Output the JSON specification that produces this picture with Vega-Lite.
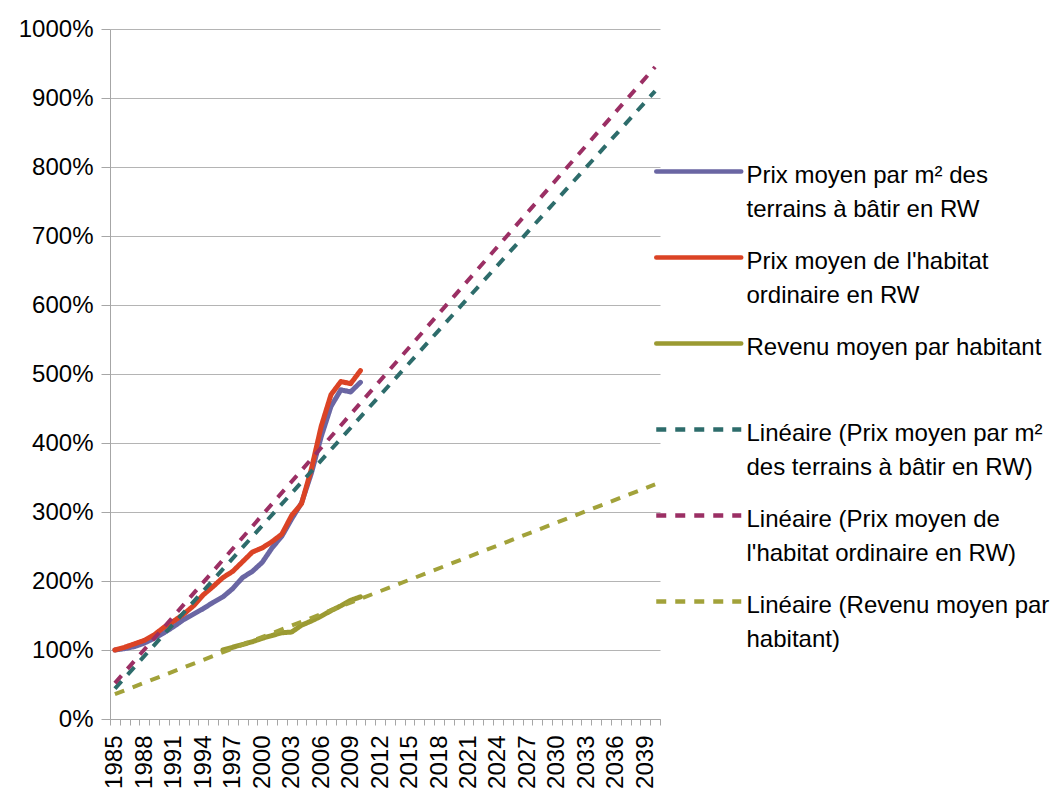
{
  "$schema": "https://vega.github.io/schema/vega-lite/v6.json",
  "width": 550,
  "height": 690,
  "autosize": {"type": "none"},
  "padding": {"left": 110, "top": 29, "right": 392, "bottom": 77},
  "background": "white",
  "config": {
    "view": {"stroke": null},
    "font": "Liberation Sans",
    "style": {"guide-label": {"lineHeight": 34}}
  },
  "data": {
    "values": [
      {"year": 1985, "value": 100, "series": "Prix moyen par m² des|terrains à bâtir en RW", "kind": "actual"},
      {"year": 1986, "value": 102, "series": "Prix moyen par m² des|terrains à bâtir en RW", "kind": "actual"},
      {"year": 1987, "value": 105, "series": "Prix moyen par m² des|terrains à bâtir en RW", "kind": "actual"},
      {"year": 1988, "value": 110, "series": "Prix moyen par m² des|terrains à bâtir en RW", "kind": "actual"},
      {"year": 1989, "value": 117, "series": "Prix moyen par m² des|terrains à bâtir en RW", "kind": "actual"},
      {"year": 1990, "value": 125, "series": "Prix moyen par m² des|terrains à bâtir en RW", "kind": "actual"},
      {"year": 1991, "value": 134, "series": "Prix moyen par m² des|terrains à bâtir en RW", "kind": "actual"},
      {"year": 1992, "value": 144, "series": "Prix moyen par m² des|terrains à bâtir en RW", "kind": "actual"},
      {"year": 1993, "value": 152, "series": "Prix moyen par m² des|terrains à bâtir en RW", "kind": "actual"},
      {"year": 1994, "value": 160, "series": "Prix moyen par m² des|terrains à bâtir en RW", "kind": "actual"},
      {"year": 1995, "value": 169, "series": "Prix moyen par m² des|terrains à bâtir en RW", "kind": "actual"},
      {"year": 1996, "value": 177, "series": "Prix moyen par m² des|terrains à bâtir en RW", "kind": "actual"},
      {"year": 1997, "value": 189, "series": "Prix moyen par m² des|terrains à bâtir en RW", "kind": "actual"},
      {"year": 1998, "value": 205, "series": "Prix moyen par m² des|terrains à bâtir en RW", "kind": "actual"},
      {"year": 1999, "value": 214, "series": "Prix moyen par m² des|terrains à bâtir en RW", "kind": "actual"},
      {"year": 2000, "value": 227, "series": "Prix moyen par m² des|terrains à bâtir en RW", "kind": "actual"},
      {"year": 2001, "value": 248, "series": "Prix moyen par m² des|terrains à bâtir en RW", "kind": "actual"},
      {"year": 2002, "value": 265, "series": "Prix moyen par m² des|terrains à bâtir en RW", "kind": "actual"},
      {"year": 2003, "value": 290, "series": "Prix moyen par m² des|terrains à bâtir en RW", "kind": "actual"},
      {"year": 2004, "value": 313, "series": "Prix moyen par m² des|terrains à bâtir en RW", "kind": "actual"},
      {"year": 2005, "value": 356, "series": "Prix moyen par m² des|terrains à bâtir en RW", "kind": "actual"},
      {"year": 2006, "value": 409, "series": "Prix moyen par m² des|terrains à bâtir en RW", "kind": "actual"},
      {"year": 2007, "value": 453, "series": "Prix moyen par m² des|terrains à bâtir en RW", "kind": "actual"},
      {"year": 2008, "value": 477, "series": "Prix moyen par m² des|terrains à bâtir en RW", "kind": "actual"},
      {"year": 2009, "value": 474, "series": "Prix moyen par m² des|terrains à bâtir en RW", "kind": "actual"},
      {"year": 2010, "value": 488, "series": "Prix moyen par m² des|terrains à bâtir en RW", "kind": "actual"},

      {"year": 1985, "value": 100, "series": "Prix moyen de l'habitat|ordinaire en RW", "kind": "actual"},
      {"year": 1986, "value": 104, "series": "Prix moyen de l'habitat|ordinaire en RW", "kind": "actual"},
      {"year": 1987, "value": 109, "series": "Prix moyen de l'habitat|ordinaire en RW", "kind": "actual"},
      {"year": 1988, "value": 114, "series": "Prix moyen de l'habitat|ordinaire en RW", "kind": "actual"},
      {"year": 1989, "value": 122, "series": "Prix moyen de l'habitat|ordinaire en RW", "kind": "actual"},
      {"year": 1990, "value": 133, "series": "Prix moyen de l'habitat|ordinaire en RW", "kind": "actual"},
      {"year": 1991, "value": 142, "series": "Prix moyen de l'habitat|ordinaire en RW", "kind": "actual"},
      {"year": 1992, "value": 152, "series": "Prix moyen de l'habitat|ordinaire en RW", "kind": "actual"},
      {"year": 1993, "value": 164, "series": "Prix moyen de l'habitat|ordinaire en RW", "kind": "actual"},
      {"year": 1994, "value": 180, "series": "Prix moyen de l'habitat|ordinaire en RW", "kind": "actual"},
      {"year": 1995, "value": 192, "series": "Prix moyen de l'habitat|ordinaire en RW", "kind": "actual"},
      {"year": 1996, "value": 205, "series": "Prix moyen de l'habitat|ordinaire en RW", "kind": "actual"},
      {"year": 1997, "value": 214, "series": "Prix moyen de l'habitat|ordinaire en RW", "kind": "actual"},
      {"year": 1998, "value": 228, "series": "Prix moyen de l'habitat|ordinaire en RW", "kind": "actual"},
      {"year": 1999, "value": 242, "series": "Prix moyen de l'habitat|ordinaire en RW", "kind": "actual"},
      {"year": 2000, "value": 248, "series": "Prix moyen de l'habitat|ordinaire en RW", "kind": "actual"},
      {"year": 2001, "value": 257, "series": "Prix moyen de l'habitat|ordinaire en RW", "kind": "actual"},
      {"year": 2002, "value": 268, "series": "Prix moyen de l'habitat|ordinaire en RW", "kind": "actual"},
      {"year": 2003, "value": 295, "series": "Prix moyen de l'habitat|ordinaire en RW", "kind": "actual"},
      {"year": 2004, "value": 312, "series": "Prix moyen de l'habitat|ordinaire en RW", "kind": "actual"},
      {"year": 2005, "value": 362, "series": "Prix moyen de l'habitat|ordinaire en RW", "kind": "actual"},
      {"year": 2006, "value": 424, "series": "Prix moyen de l'habitat|ordinaire en RW", "kind": "actual"},
      {"year": 2007, "value": 470, "series": "Prix moyen de l'habitat|ordinaire en RW", "kind": "actual"},
      {"year": 2008, "value": 489, "series": "Prix moyen de l'habitat|ordinaire en RW", "kind": "actual"},
      {"year": 2009, "value": 486, "series": "Prix moyen de l'habitat|ordinaire en RW", "kind": "actual"},
      {"year": 2010, "value": 505, "series": "Prix moyen de l'habitat|ordinaire en RW", "kind": "actual"},

      {"year": 1996, "value": 100, "series": "Revenu moyen par habitant|", "kind": "actual"},
      {"year": 1997, "value": 104, "series": "Revenu moyen par habitant|", "kind": "actual"},
      {"year": 1998, "value": 108, "series": "Revenu moyen par habitant|", "kind": "actual"},
      {"year": 1999, "value": 112, "series": "Revenu moyen par habitant|", "kind": "actual"},
      {"year": 2000, "value": 117, "series": "Revenu moyen par habitant|", "kind": "actual"},
      {"year": 2001, "value": 121, "series": "Revenu moyen par habitant|", "kind": "actual"},
      {"year": 2002, "value": 125, "series": "Revenu moyen par habitant|", "kind": "actual"},
      {"year": 2003, "value": 126, "series": "Revenu moyen par habitant|", "kind": "actual"},
      {"year": 2004, "value": 136, "series": "Revenu moyen par habitant|", "kind": "actual"},
      {"year": 2005, "value": 142, "series": "Revenu moyen par habitant|", "kind": "actual"},
      {"year": 2006, "value": 149, "series": "Revenu moyen par habitant|", "kind": "actual"},
      {"year": 2007, "value": 157, "series": "Revenu moyen par habitant|", "kind": "actual"},
      {"year": 2008, "value": 164, "series": "Revenu moyen par habitant|", "kind": "actual"},
      {"year": 2009, "value": 172, "series": "Revenu moyen par habitant|", "kind": "actual"},
      {"year": 2010, "value": 177, "series": "Revenu moyen par habitant|", "kind": "actual"},

      {"year": 1985, "value": 44, "series": "Linéaire (Prix moyen par m²|des terrains à bâtir en RW)", "kind": "trend"},
      {"year": 2040, "value": 910, "series": "Linéaire (Prix moyen par m²|des terrains à bâtir en RW)", "kind": "trend"},
      {"year": 1985, "value": 52, "series": "Linéaire (Prix moyen de|l'habitat ordinaire en RW)", "kind": "trend"},
      {"year": 2040, "value": 945, "series": "Linéaire (Prix moyen de|l'habitat ordinaire en RW)", "kind": "trend"},
      {"year": 1985, "value": 36, "series": "Linéaire (Revenu moyen par|habitant)", "kind": "trend"},
      {"year": 2040, "value": 340, "series": "Linéaire (Revenu moyen par|habitant)", "kind": "trend"}
    ]
  },
  "encoding": {
    "x": {
      "field": "year",
      "type": "quantitative",
      "title": null,
      "scale": {"domain": [1984.5, 2040.5], "nice": false, "zero": false},
      "axis": {
        "values": [1984.5, 1985, 1985.5, 1986.5, 1987.5, 1988, 1988.5, 1989.5, 1990.5, 1991, 1991.5, 1992.5, 1993.5, 1994, 1994.5, 1995.5, 1996.5, 1997, 1997.5, 1998.5, 1999.5, 2000, 2000.5, 2001.5, 2002.5, 2003, 2003.5, 2004.5, 2005.5, 2006, 2006.5, 2007.5, 2008.5, 2009, 2009.5, 2010.5, 2011.5, 2012, 2012.5, 2013.5, 2014.5, 2015, 2015.5, 2016.5, 2017.5, 2018, 2018.5, 2019.5, 2020.5, 2021, 2021.5, 2022.5, 2023.5, 2024, 2024.5, 2025.5, 2026.5, 2027, 2027.5, 2028.5, 2029.5, 2030, 2030.5, 2031.5, 2032.5, 2033, 2033.5, 2034.5, 2035.5, 2036, 2036.5, 2037.5, 2038.5, 2039, 2039.5, 2040.5],
        "labelExpr": "datum.value % 1 === 0 ? '' + datum.value : ''",
        "tickOpacity": {"condition": {"test": "datum.value % 1 !== 0", "value": 1}, "value": 0},
        "labelAngle": -90,
        "labelOverlap": false,
        "labelFlush": false,
        "labelFontSize": 24,
        "labelColor": "#000000",
        "labelPadding": 10,
        "tickSize": 6,
        "tickColor": "#a6a6a6",
        "domainColor": "#a6a6a6",
        "grid": false
      }
    },
    "y": {
      "field": "value",
      "type": "quantitative",
      "title": null,
      "scale": {"domain": [0, 1000], "nice": false},
      "axis": {
        "values": [0, 100, 200, 300, 400, 500, 600, 700, 800, 900, 1000],
        "labelExpr": "datum.value + '%'",
        "labelFontSize": 24,
        "labelColor": "#000000",
        "labelPadding": 8,
        "tickSize": 9,
        "tickColor": "#a6a6a6",
        "domainColor": "#a6a6a6",
        "gridColor": "#b4b4b4",
        "gridWidth": 1,
        "grid": true
      }
    },
    "color": {
      "field": "series",
      "type": "nominal",
      "title": null,
      "scale": {
        "domain": ["Prix moyen par m² des|terrains à bâtir en RW", "Prix moyen de l'habitat|ordinaire en RW", "Revenu moyen par habitant|", "Linéaire (Prix moyen par m²|des terrains à bâtir en RW)", "Linéaire (Prix moyen de|l'habitat ordinaire en RW)", "Linéaire (Revenu moyen par|habitant)"],
        "range": ["#6A66A3", "#DB4325", "#9B9A32", "#2D6C6B", "#9B2F64", "#A2A23A"]
      },
      "legend": {
        "orient": "none",
        "legendX": 544,
        "legendY": 119,
        "padding": 0,
        "symbolType": "M-1,0H3",
        "symbolSize": 1806.25,
        "symbolStrokeWidth": 4.5,
        "labelExpr": "split(datum.label, '|')",
        "labelFontSize": 24,
        "labelColor": "#000000",
        "labelBaseline": "top",
        "labelOffset": 45.5,
        "labelLimit": 400,
        "rowPadding": 12,
        "encode": {
          "labels": {"update": {"dy": {"value": -8}}},
          "symbols": {"update": {"strokeCap": {"signal": "indexof(datum.value, 'Lin') === 0 ? 'butt' : 'round'"}}}
        }
      }
    },
    "strokeDash": {
      "field": "series",
      "type": "nominal",
      "title": null,
      "scale": {
        "domain": ["Prix moyen par m² des|terrains à bâtir en RW", "Prix moyen de l'habitat|ordinaire en RW", "Revenu moyen par habitant|", "Linéaire (Prix moyen par m²|des terrains à bâtir en RW)", "Linéaire (Prix moyen de|l'habitat ordinaire en RW)", "Linéaire (Revenu moyen par|habitant)"],
        "range": [[1, 0], [1, 0], [1, 0], [10, 9], [10, 9], [10, 9]]
      }
    }
  },
  "layer": [
    {
      "transform": [{"filter": "datum.kind === 'actual'"}],
      "mark": {"type": "line", "strokeWidth": 5, "strokeCap": "round", "strokeJoin": "round"}
    },
    {
      "transform": [{"filter": "datum.kind === 'trend'"}],
      "mark": {"type": "line", "strokeWidth": 4}
    }
  ]
}
